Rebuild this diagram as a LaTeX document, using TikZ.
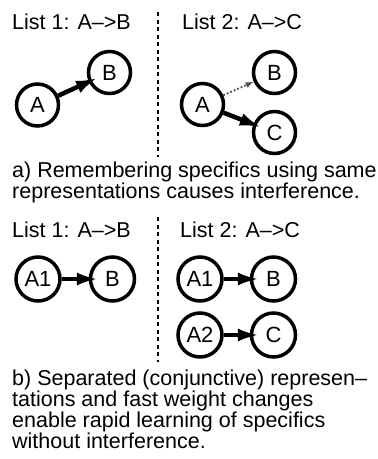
\documentclass[tikz,border=0pt]{standalone}
\usepackage{fontspec}
\setmainfont{Liberation Sans}
\usetikzlibrary{arrows.meta}
\begin{document}
\begin{tikzpicture}[x=1pt,y=-1pt,
  txt/.style={anchor=base west,inner sep=0pt,font=\fontsize{21.5}{21}\selectfont},
  unit/.style={circle,draw,line width=3.5pt,minimum size=42pt,inner sep=0pt,font=\fontsize{22}{21}\selectfont},
  unitb/.style={unit,minimum size=44pt},
  conn/.style={line width=4.5pt,-{Latex[length=22pt,width=13pt]},shorten >=-10pt},
  weak/.style={line width=1.8pt,dotted,black!70,-{Latex[length=8pt,width=6pt]}},
  divider/.style={line width=2pt,dash pattern=on 4pt off 3.5pt}]
\useasboundingbox (0,0) rectangle (378,459);
% ---- part a ----
\node[txt] (l1a) at (12,29) {List 1: A–>B};
\node[txt] (l2a) at (182,29) {List 2: A–>C};
\coordinate (d1s) at (157.5,12);
\coordinate (d1e) at (157.5,157);
\draw[divider] (d1s) -- (d1e);
\node[unit] (aA) at (37.5,105) {A};
\node[unit] (aB) at (109.5,72.5) {B};
\draw[conn] (aA) -- (aB);
\node[unit] (bA) at (202.5,104.5) {A};
\node[unit] (bB) at (274.5,72.5) {B};
\node[unit] (bC) at (274.5,132.5) {C};
\draw[weak] (bA) -- (bB);
\draw[conn,shorten >=-9pt] (bA) -- (bC);
\node[txt] (ca1) at (12,177) {a) Remembering specifics using same};
\node[txt] (ca2) at (12,198) {representations causes interference.};
% ---- part b ----
\node[txt] (l1b) at (12,237) {List 1: A–>B};
\node[txt] (l2b) at (180,237) {List 2: A–>C};
\coordinate (d2s) at (157.5,217);
\coordinate (d2e) at (157.5,362);
\draw[divider] (d2s) -- (d2e);
\node[unitb] (cA1) at (38,279) {A1};
\node[unitb] (cB) at (112.5,279) {B};
\draw[conn] (cA1) -- (cB);
\node[unitb] (dA1) at (200,279) {A1};
\node[unitb] (dB) at (273.5,279) {B};
\draw[conn] (dA1) -- (dB);
\node[unitb] (dA2) at (200,335) {A2};
\node[unitb] (dC) at (273.5,335) {C};
\draw[conn] (dA2) -- (dC);
\node[txt] (cb1) at (12,385) {b) Separated (conjunctive) represen–};
\node[txt] (cb2) at (12,406) {tations and fast weight changes};
\node[txt] (cb3) at (12,427) {enable rapid learning of specifics};
\node[txt] (cb4) at (12,448) {without interference.};
\end{tikzpicture}
\end{document}
